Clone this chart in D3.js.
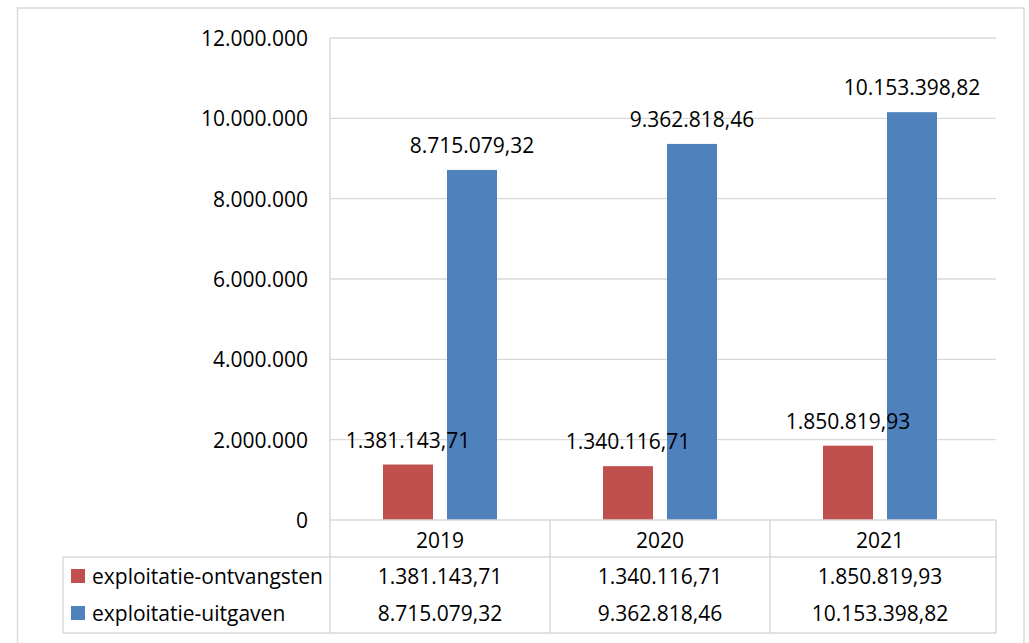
<!DOCTYPE html>
<html>
<head>
<meta charset="utf-8">
<script src="https://cdn.jsdelivr.net/npm/d3@7/dist/d3.min.js"></script>
<style>
  html, body { margin: 0; padding: 0; background: #fff; }
  svg { display: block; }
  text { font-family: "Open Sans", "Noto Sans", sans-serif; fill: #000; }
</style>
</head>
<body>
<svg id="chart" width="1029" height="643"></svg>
<script>
// ---- data ----
const years = ["2019", "2020", "2021"];
const seriesNames = ["exploitatie-ontvangsten", "exploitatie-uitgaven"];
const ontvangsten = [1381143.71, 1340116.71, 1850819.93];
const uitgaven = [8715079.32, 9362818.46, 10153398.82];
const seriesColors = ["#C0504D", "#4F81BD"];
const yTicks = [0, 2000000, 4000000, 6000000, 8000000, 10000000, 12000000];

const seriesValues = [ontvangsten, uitgaven];

// Dutch number formatting
const nl = d3.formatLocale({ decimal: ",", thousands: ".", grouping: [3], currency: ["€", ""] });
const fmtInt = nl.format(",.0f");
const fmtDec = nl.format(",.2f");

const svg = d3.select("#chart");
const fontSize = 21;

// layout
const plotLeft = 330, plotRight = 990, frameRight = 996;
const plotTop = 38, plotBottom = 520;
const headerBottom = 557, tableBottom = 633, tableLeft = 63;

const x0 = d3.scaleBand().domain(years).range([plotLeft, plotRight]);
const x1 = d3.scaleBand().domain(seriesNames).range([0, x0.bandwidth()])
  .paddingInner(0.21875).paddingOuter(0.828);
const y = d3.scaleLinear().domain([0, 12000000]).range([plotBottom, plotTop]);

const grid = "#D9D9D9";

// outer border
svg.append("rect").attr("x", 17.5).attr("y", 8).attr("width", 1006.5).attr("height", 660)
  .attr("fill", "none").attr("stroke", grid).attr("stroke-width", 1.5);

// gridlines
svg.append("g").selectAll("line").data(yTicks.filter(d => d > 0)).join("line")
  .attr("x1", plotLeft).attr("x2", frameRight)
  .attr("y1", d => y(d)).attr("y2", d => y(d))
  .attr("stroke", grid).attr("stroke-width", 1.3);

// y axis labels
svg.append("g").selectAll("text").data(yTicks).join("text")
  .attr("x", 308).attr("y", d => y(d))
  .attr("text-anchor", "end").attr("dominant-baseline", "central")
  .attr("font-size", fontSize)
  .text(d => fmtInt(d));

// bars
const groups = svg.append("g").selectAll("g").data(years).join("g")
  .attr("transform", d => `translate(${x0(d)},0)`);

groups.selectAll("rect")
  .data((yr, i) => seriesNames.map((s, j) => ({ s, v: seriesValues[j][i], c: seriesColors[j] })))
  .join("rect")
  .attr("x", d => x1(d.s)).attr("width", x1.bandwidth())
  .attr("y", d => y(d.v)).attr("height", d => y(0) - y(d.v))
  .attr("fill", d => d.c);

groups.selectAll("text.lbl")
  .data((yr, i) => seriesNames.map((s, j) => ({ s, v: seriesValues[j][i] })))
  .join("text").attr("class", "lbl")
  .attr("x", d => x1(d.s) + x1.bandwidth() / 2)
  .attr("y", d => y(d.v) - 25)
  .attr("text-anchor", "middle").attr("dominant-baseline", "central")
  .attr("font-size", fontSize)
  .text(d => fmtDec(d.v));

// data table frame
const tf = svg.append("g").attr("stroke", grid).attr("stroke-width", 1.5).attr("fill", "none");
tf.append("line").attr("x1", plotLeft).attr("x2", frameRight).attr("y1", plotBottom).attr("y2", plotBottom);
tf.append("line").attr("x1", tableLeft).attr("x2", frameRight).attr("y1", headerBottom).attr("y2", headerBottom);
tf.append("line").attr("x1", tableLeft).attr("x2", frameRight).attr("y1", tableBottom).attr("y2", tableBottom);
tf.append("line").attr("x1", tableLeft).attr("x2", tableLeft).attr("y1", headerBottom).attr("y2", tableBottom);
tf.append("line").attr("x1", plotLeft).attr("x2", plotLeft).attr("y1", plotTop).attr("y2", tableBottom);
tf.selectAll("line.div").data(years.slice(1)).join("line").attr("class", "div")
  .attr("x1", d => x0(d)).attr("x2", d => x0(d)).attr("y1", plotBottom).attr("y2", tableBottom);
tf.append("line").attr("x1", frameRight).attr("x2", frameRight).attr("y1", plotBottom).attr("y2", tableBottom);

// header years
svg.append("g").selectAll("text").data(years).join("text")
  .attr("x", d => x0(d) + x0.bandwidth() / 2).attr("y", (plotBottom + headerBottom) / 2 + 1)
  .attr("text-anchor", "middle").attr("dominant-baseline", "central")
  .attr("font-size", fontSize).text(d => d);

// table rows
const rowY = [576, 613];
seriesNames.forEach((s, j) => {
  svg.append("rect").attr("x", 71).attr("y", rowY[j] - 7).attr("width", 14).attr("height", 14)
    .attr("fill", seriesColors[j]);
  svg.append("text").attr("x", 92).attr("y", rowY[j])
    .attr("dominant-baseline", "central").attr("font-size", fontSize).text(s);
  svg.append("g").selectAll("text").data(years).join("text")
    .attr("x", d => x0(d) + x0.bandwidth() / 2).attr("y", rowY[j])
    .attr("text-anchor", "middle").attr("dominant-baseline", "central")
    .attr("font-size", fontSize).text((d, i) => fmtDec(seriesValues[j][i]));
});
</script>
</body>
</html>
